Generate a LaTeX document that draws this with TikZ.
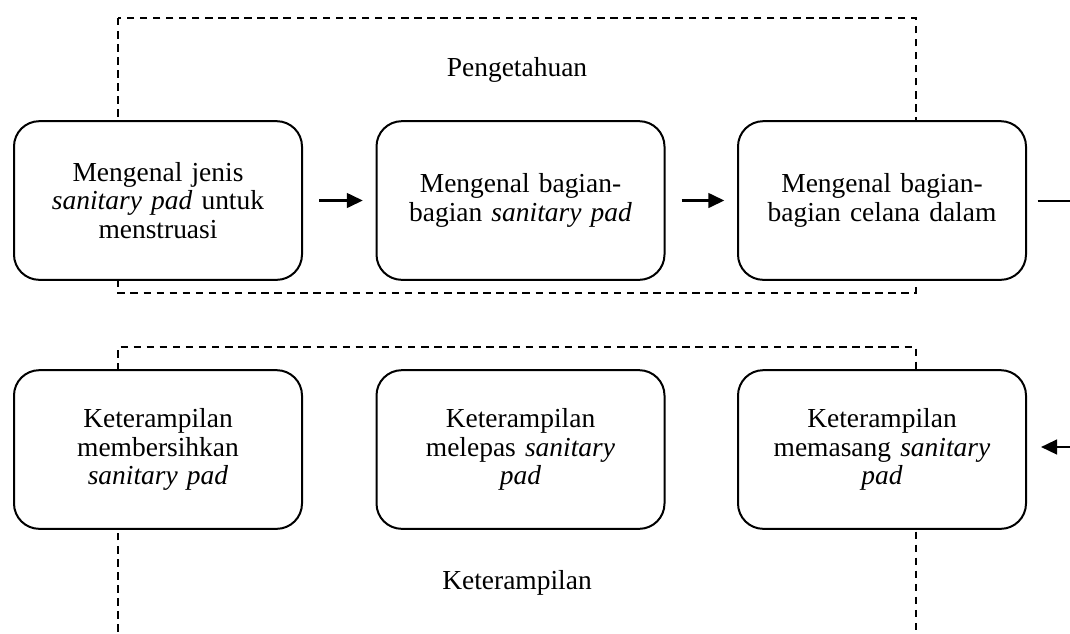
\documentclass[tikz,border=0pt]{standalone}
\usepackage{fontspec}
\setmainfont{Liberation Serif}
\usetikzlibrary{arrows.meta}
\begin{document}
\begin{tikzpicture}[x=0.75pt,y=-0.75pt,
  stepbox/.style={draw,line width=1.5pt,fill=white,rounded corners=19pt,
    minimum width=216pt,minimum height=119pt,text width=200pt,align=center,
    font=\fontsize{20.6}{21.2}\selectfont,inner sep=0pt},
  grp/.style={draw,line width=1.2pt,dash pattern=on 5.6pt off 4.2pt},
  lbl/.style={font=\fontsize{20.6}{21.2}\selectfont,inner sep=0pt},
  flow/.style={line width=1.8pt,-{Triangle[length=12pt,width=11pt]}}]
\useasboundingbox (0,0) rectangle (1070,633);
% group frames
\draw[grp] (118,18) rectangle (916,293);
\draw[grp] (118,645) -- (118,347) -- (916,347) -- (916,645);
\node[lbl] (pg) at (517,70) {Pengetahuan};
\node[lbl] (kt) at (517,583) {Keterampilan};
% top row
\node[stepbox] (b1) at (158,200.5) {Mengenal jenis\\ \textit{sanitary pad} untuk\\ menstruasi};
\node[stepbox] (b2) at (520.5,200.5) {Mengenal bagian-\\ bagian \textit{sanitary pad}};
\node[stepbox] (b3) at (882,200.5) {Mengenal bagian-\\ bagian celana dalam};
% bottom row
\node[stepbox] (c1) at (158,449.5) {Keterampilan\\ membersihkan\\ \textit{sanitary pad}};
\node[stepbox] (c2) at (520.5,449.5) {Keterampilan\\ melepas \textit{sanitary}\\ \textit{pad}};
\node[stepbox] (c3) at (882,449.5) {Keterampilan\\ memasang \textit{sanitary}\\ \textit{pad}};
% connectors
\draw[flow,shorten <=12pt,shorten >=9.5pt] (b1.east) -- (b2.west);
\draw[flow,shorten <=12pt,shorten >=9.5pt] (b2.east) -- (b3.west);
\coordinate (outR) at (1080,201);
\coordinate (inR) at (1080,447);
\draw[line width=1.8pt,shorten <=8pt] (b3.east |- outR) -- (outR);
\draw[flow,shorten >=10.5pt] (inR) -- (c3.east |- inR);
\end{tikzpicture}
\end{document}
